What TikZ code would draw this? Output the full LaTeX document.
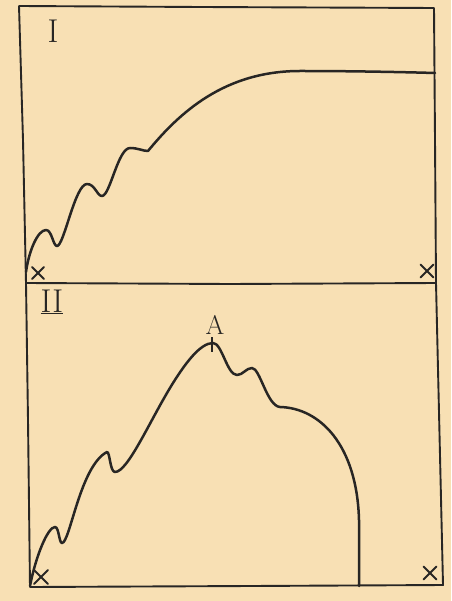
\documentclass[tikz,border=0pt]{standalone}
\usepackage{tikz}
\definecolor{paper}{RGB}{248,224,180}
\definecolor{ink}{RGB}{40,38,36}
\begin{document}
\begin{tikzpicture}[x=1pt,y=-1pt,
  frame/.style={draw=ink,line width=1.9pt,line join=round,line cap=round},
  curve/.style={draw=ink,line width=2.5pt,line join=round,line cap=round},
  numeral/.style={text=ink,inner sep=0pt,font=\fontsize{33}{33}\selectfont},
  label/.style={text=ink,inner sep=0pt,font=\fontsize{27}{27}\selectfont},
  xmark/.style={draw=ink,line width=1.8pt,line cap=round}]
\fill[paper] (0,0) rectangle (451,601);
\useasboundingbox (0,0) rectangle (451,601);
% frames
\draw[frame] (19,6) -- (200,7) -- (434,8) -- (435,140) -- (436,283) -- (443,585) -- (250,586) -- (30,587) -- (28,420) -- (26,283) -- (23,140) -- (19,6);
\draw[frame] (26,283) -- (230,284) -- (436,283);
% labels
\node[numeral] (n1) at (53,31) {I};
\node[numeral] (n2) at (52,302) {\underline{II}};
\node[label] (a) at (215,325) {A};
% x marks
\coordinate (x1) at (38,273);
\coordinate (x2) at (427,271);
\coordinate (x3) at (41,577);
\coordinate (x4) at (430,573);
\foreach \c/\s in {x1/6,x2/6.5,x3/7,x4/6.5}{
  \draw[xmark] (\c) +(-\s,-\s) -- +(\s,\s);
  \draw[xmark] (\c) +(-\s,\s) -- +(\s,-\s);
}
% curve I
\draw[curve] (26,272)
  .. controls (29,250) and (38,230) .. (46,230)
  .. controls (52,230) and (53,246) .. (57,246)
  .. controls (64,246) and (75,184) .. (87,184)
  .. controls (95,184) and (97,196) .. (102,196)
  .. controls (110,196) and (118,148) .. (130,148)
  .. controls (138,148) and (143,151) .. (148,151)
  .. controls (180,112) and (225,71) .. (300,71)
  .. controls (350,71) and (400,72) .. (435,73);
% curve II
\draw[curve] (30,586)
  .. controls (36,555) and (48,527) .. (55,527)
  .. controls (59,527) and (59,543) .. (62,543)
  .. controls (70,543) and (80,466) .. (107,452)
  .. controls (110,452) and (110,472) .. (115,472)
  .. controls (128,472) and (150,420) .. (173,383)
  .. controls (185,364) and (200,343) .. (213,343)
  .. controls (222,343) and (227,375) .. (237,375)
  .. controls (243,375) and (246,368) .. (252,368)
  .. controls (260,368) and (267,406) .. (280,407)
  .. controls (320,408) and (357,445) .. (359,520)
  -- (359,586);
\coordinate (tt) at (212,337);
\coordinate (tb) at (212,352);
\draw[draw=ink,line width=1.4pt] (tt) -- (tb);
\end{tikzpicture}
\end{document}
